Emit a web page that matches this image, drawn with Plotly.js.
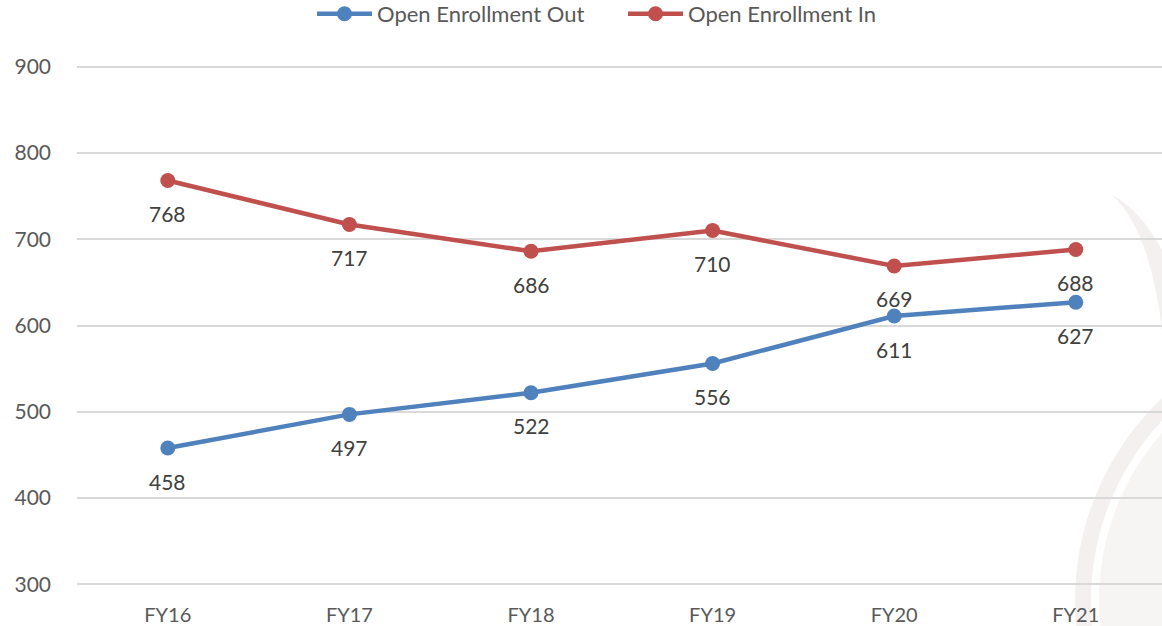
<!DOCTYPE html>
<html>
<head>
<meta charset="utf-8">
<script src="https://cdn.plot.ly/plotly-3.0.1.min.js"></script>
<style>html,body{margin:0;padding:0;background:#fff;}#chart{width:1162px;height:626px;}</style>
</head>
<body>
<div id="chart"></div>
<script>
const categories = ["FY16", "FY17", "FY18", "FY19", "FY20", "FY21"];
const enrollmentOut = [458, 497, 522, 556, 611, 627];
const enrollmentIn = [768, 717, 686, 710, 669, 688];
const seriesNames = ["Open Enrollment Out", "Open Enrollment In"];
const yTicks = [300, 400, 500, 600, 700, 800, 900];

const BLUE = "#4F81BD", RED = "#C0504D";
const FONT = "Lato, 'Open Sans', sans-serif";
const PXU = 0.8617;           // pixels per unit on y
const PAD = 3;                // units of padding so edge gridlines show
const L = 77, W = 1162, H = 626;
const T = 67 - PAD * PXU, PB = 584 + PAD * PXU;
const pw = W - L, ph = PB - T;
const px = x => (x - L) / pw;
const py = y => (PB - y) / ph;

function line(name, ys, color) {
  return {
    type: "scatter", mode: "lines+markers", name: name,
    x: categories, y: ys,
    line: {color: color, width: 4.5},
    marker: {color: color, size: 15},
    hoverinfo: "skip"
  };
}

const annotations = [];
[enrollmentOut, enrollmentIn].forEach(ys => {
  ys.forEach((v, i) => annotations.push({
    x: categories[i], y: v, xref: "x", yref: "y",
    text: String(v), showarrow: false, yshift: -33,
    font: {family: FONT, size: 21, color: "#404040"}
  }));
});

function circ(cx, cy, r, fill) {
  return {type: "circle", xref: "paper", yref: "paper", layer: "below",
    x0: px(cx - r), x1: px(cx + r), y0: py(cy + r), y1: py(cy - r),
    fillcolor: fill, line: {width: 0}};
}
const shapes = [
  circ(1353, 600, 278, "#f4f0f0"),
  circ(1353, 600, 262, "#ffffff"),
  circ(1353, 600, 254, "#f7f4f4"),
  {type: "path", xref: "paper", yref: "paper", layer: "below",
   path: `M ${px(1112)} ${py(195)} Q ${px(1150)} ${py(230)} ${px(1162)} ${py(330)} L ${px(1162)} ${py(250)} Q ${px(1140)} ${py(210)} ${px(1112)} ${py(195)} Z`,
   fillcolor: "#f4f0f0", line: {width: 0}}
];

const layout = {
  width: W, height: H,
  margin: {l: L, r: 0, t: T, b: H - PB, autoexpand: false},
  paper_bgcolor: "#ffffff", plot_bgcolor: "rgba(0,0,0,0)",
  font: {family: FONT, color: "#595959"},
  showlegend: true,
  legend: {orientation: "h", x: px(312), xanchor: "left", y: py(14.5), yanchor: "middle",
    font: {family: FONT, size: 22, color: "#595959"}, itemwidth: 55, entrywidth: 241,
    bgcolor: "rgba(0,0,0,0)"},
  xaxis: {type: "category", range: [-0.5, -0.5 + pw / 181.6], showgrid: false, zeroline: false,
    showline: false, ticks: "", ticklabelstandoff: 14, automargin: false,
    tickfont: {family: FONT, size: 20, color: "#595959"}, fixedrange: true},
  yaxis: {range: [300 - PAD, 900 + PAD], tickvals: yTicks, showgrid: true, gridcolor: "#d9d9d9", gridwidth: 2,
    zeroline: false, showline: false, ticks: "", ticklabelstandoff: 25, automargin: false,
    tickfont: {family: FONT, size: 21, color: "#595959"}, fixedrange: true},
  annotations: annotations,
  shapes: shapes
};

Plotly.newPlot("chart", [line(seriesNames[0], enrollmentOut, BLUE), line(seriesNames[1], enrollmentIn, RED)], layout, {displayModeBar: false, staticPlot: true});
</script>
</body>
</html>
